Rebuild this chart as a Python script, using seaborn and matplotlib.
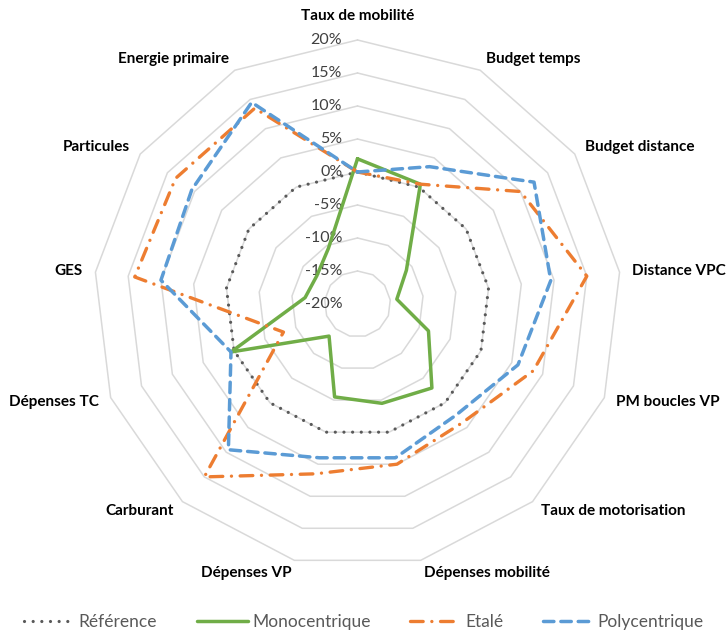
import numpy as np
import pandas as pd
import seaborn as sns
import matplotlib.pyplot as plt
from matplotlib.lines import Line2D

# axes of the radar, clockwise from the top
categories = ['Taux de mobilité', 'Budget temps', 'Budget distance', 'Distance VPC',
              'PM boucles VP', 'Taux de motorisation', 'Dépenses mobilité',
              'Dépenses VP', 'Carburant', 'Dépenses TC', 'GES', 'Particules',
              'Energie primaire']

# variations in %
reference = [0, 0, 0, 0, 0, 0, 0, 0, 0, 0, 0, 0, 0]
monocentrique = [2, 0.5, -11, -14, -8.5, -3, -4.5, -5.5, -13.5, 0.5, -12, -12.5, -10.5]
etale = [0, 0.5, 10, 15, 8.5, 4, 5, 6.5, 15, -8, 14, 13.5, 13.5]
polycentrique = [0, 3.5, 12.5, 9.5, 6, 2.5, 4, 4, 9.5, 0.5, 10, 10.5, 14.5]

series_names = ['Référence', 'Monocentrique', 'Etalé', 'Polycentrique']
ticks = [-20, -15, -10, -5, 0, 5, 10, 15, 20]

# style per series
colors = ['#595959', '#70AD47', '#ED7D31', '#5B9BD5']
widths = [2.3, 2.5, 2.4, 2.5]
dash_specs = [(0.01, 2.7), None, (3.8, 2.6, 0.01, 2.6), (3.0, 2.0)]

sns.set_theme(style='white')
plt.rcParams['font.family'] = ['Lato', 'DejaVu Sans']

r_min = ticks[0]
n = len(categories)
theta = 2 * np.pi * np.arange(n) / n


def to_xy(values):
    r = np.array(values, dtype=float) - r_min
    x = r * np.sin(theta)
    y = r * np.cos(theta)
    # close the polygon
    return np.append(x, x[0]), np.append(y, y[0])


rows = []
for name, vals in zip(series_names, [reference, monocentrique, etale, polycentrique]):
    x, y = to_xy(vals)
    for i in range(len(x)):
        rows.append({'serie': name, 'order': i, 'x': x[i], 'y': y[i]})
df = pd.DataFrame(rows)

px = 6.6  # pixels per % unit
fig = plt.figure(figsize=(7.28, 6.35), dpi=100)
ax = fig.add_axes([0, 0, 1, 1])
ax.set_xlim(-357.5 / px, (728 - 357.5) / px)
ax.set_ylim(-(635 - 304) / px, 304 / px)
ax.axis('off')

# polygon grid
for t in ticks[1:]:
    gx, gy = to_xy([t] * n)
    ax.plot(gx, gy, color='#D9D9D9', lw=1.1, zorder=0)

# radial tick labels
for t in ticks:
    ax.text(-2.3, t - r_min, f'{t}%', ha='right', va='center',
            fontsize=11.5, color='#404040', zorder=1)

# series
handles = []
for name, c, w, d in zip(series_names, colors, widths, dash_specs):
    sub = df[df['serie'] == name]
    sns.lineplot(data=sub, x='x', y='y', sort=False, estimator=None,
                 color=c, lw=w, ax=ax, zorder=3)
    line = ax.lines[-1]
    if d is not None:
        line.set_dashes(d)
        line.set_dash_capstyle('round')
    h = Line2D([], [], color=c, lw=w)
    if d is not None:
        h.set_dashes(d)
        h.set_dash_capstyle('round')
    handles.append(h)

if ax.get_legend() is not None:
    ax.get_legend().remove()

# category labels
r_lab = 277 / px
for k, cat in enumerate(categories):
    s, co = np.sin(theta[k]), np.cos(theta[k])
    if abs(s) < 0.05:
        ax.text(0, 281 / px, cat, ha='center', va='bottom',
                fontsize=11, fontweight='bold', color='black')
    else:
        ax.text(r_lab * s, r_lab * co, cat, ha='left' if s > 0 else 'right',
                va='center', fontsize=11, fontweight='bold', color='black')

fig.legend(handles, series_names, loc='center', bbox_to_anchor=(0.5, 1 - 622 / 635),
           ncol=4, frameon=False, handlelength=2.9, columnspacing=2.3,
           handletextpad=0.25, borderpad=0.2, fontsize=12.5, labelcolor='#595959')

fig.savefig('out.png', dpi=100)
